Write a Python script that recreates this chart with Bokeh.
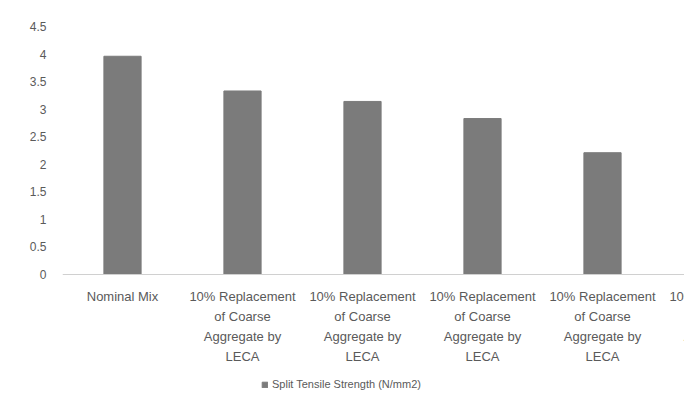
from bokeh.plotting import figure
from bokeh.models import (ColumnDataSource, FixedTicker, NumeralTickFormatter, Range1d,
                          Span, Legend, LegendItem)
from bokeh.core.properties import value
from bokeh.embed import file_html
from bokeh.resources import INLINE

categories = [
    "Nominal Mix",
    "10% Replacement\nof Coarse\nAggregate by\nLECA",
    "10% Replacement\nof Coarse\nAggregate by\nLECA",
    "10% Replacement\nof Coarse\nAggregate by\nLECA",
    "10% Replacement\nof Coarse\nAggregate by\nLECA",
    "10% Replacement\nof Coarse\nAggregate by\nLECA",
]
values = [3.96, 3.33, 3.14, 2.83, 2.21]
series_name = "Split Tensile Strength (N/mm2)"
y_ticks = [0, 0.5, 1, 1.5, 2, 2.5, 3, 3.5, 4, 4.5]

FONT = "Liberation Sans"
TXT = "#5a5a5a"
BAR = "#7b7b7b"

bars = ColumnDataSource(dict(x=list(range(len(values))), top=values))
labels = ColumnDataSource(dict(x=list(range(len(categories))), y=[0] * len(categories),
                               text=categories))

FRAME_H = 388
p = figure(width=684, height=414, output_backend="svg", toolbar_location=None,
           x_range=Range1d(-0.5, -0.5 + 622 / 120),
           y_range=Range1d(4.5 - 4.5 * FRAME_H / 248, 4.5),
           frame_width=622, frame_height=FRAME_H, x_axis_location=None,
           min_border_left=62, min_border_right=0, min_border_top=26, min_border_bottom=0)
p.outline_line_color = None
p.background_fill_color = "white"
p.border_fill_color = "white"

r = p.vbar(x="x", top="top", width=0.31, source=bars, fill_color=BAR, line_color=BAR)

p.xgrid.visible = False
p.ygrid.visible = False

# y axis
p.yaxis.ticker = FixedTicker(ticks=y_ticks)
p.yaxis.formatter = NumeralTickFormatter(format="0.[0]")
p.yaxis.axis_line_color = None
p.yaxis.major_tick_line_color = None
p.yaxis.minor_tick_line_color = None
p.yaxis.major_label_standoff = 10
p.yaxis.major_label_text_font = FONT
p.yaxis.major_label_text_font_size = "12px"
p.yaxis.major_label_text_color = TXT

# category axis line and labels
p.add_layout(Span(location=0, dimension="width", line_color="#d0d0d0", line_width=1))
p.text(x="x", y="y", text="text", source=labels, y_offset=14,
       text_align="center", text_baseline="top", text_font=value(FONT),
       text_font_size="13px", text_color=TXT, text_line_height=1.35)

legend = Legend(items=[LegendItem(label=series_name, renderers=[r])],
                orientation="horizontal", location=(199, 24),
                label_text_font=FONT, label_text_font_size="11px", label_text_color=TXT,
                glyph_width=7, glyph_height=7, border_line_color=None,
                background_fill_alpha=0, padding=4, margin=0, label_standoff=4)
p.add_layout(legend)

open("out.html", "w").write(file_html(p, INLINE))
